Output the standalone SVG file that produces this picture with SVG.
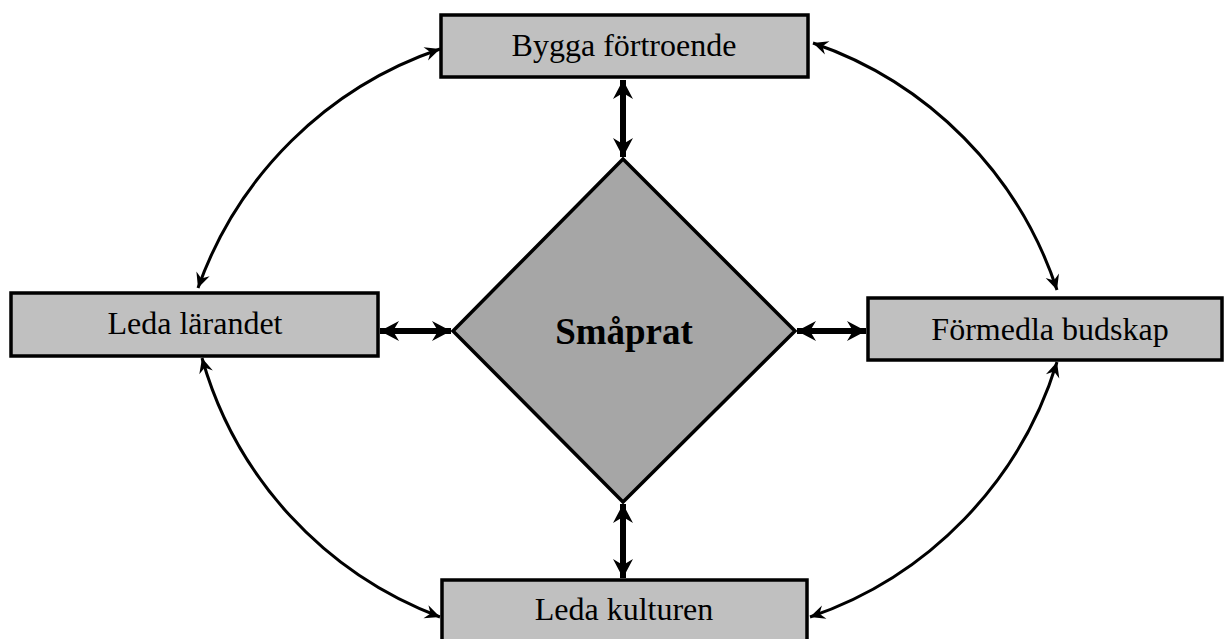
<svg xmlns="http://www.w3.org/2000/svg" width="1225" height="639" viewBox="0 0 1225 639">
<style>
.box{fill:#c0c0c0;stroke:#000;stroke-width:3.5}
.dia{fill:#a6a6a6;stroke:#000;stroke-width:3.5}
.lbl{font-family:"Liberation Serif","Times New Roman",serif;font-size:32px;fill:#000;text-anchor:middle}
.big{font-family:"Liberation Serif","Times New Roman",serif;font-size:37px;font-weight:bold;fill:#000;text-anchor:middle}
.thin{fill:none;stroke:#000;stroke-width:3;marker-start:url(#ah);marker-end:url(#ah)}
.thick{fill:none;stroke:#000;stroke-width:6;marker-start:url(#AH);marker-end:url(#AH)}
</style>
<defs>
<marker id="ah" markerUnits="userSpaceOnUse" viewBox="-16 -8 17 16" refX="0" refY="0" markerWidth="17" markerHeight="16" orient="auto-start-reverse">
<path d="M0,0 L-15,-7 L-10,0 L-15,7 Z" fill="#000"/>
</marker>
<marker id="AH" markerUnits="userSpaceOnUse" viewBox="-20 -11 21 22" refX="0" refY="0" markerWidth="21" markerHeight="22" orient="auto-start-reverse">
<path d="M0,0 L-19,-10 L-13,0 L-19,10 Z" fill="#000"/>
</marker>
</defs>
<g id="connectors">
<path class="thick" d="M623,80 L623,157"/>
<path class="thick" d="M380,331 L451,331"/>
<path class="thick" d="M797,331 L866,331"/>
<path class="thick" d="M623,504 L623,578"/>
<path class="thin" d="M440,49 A390,390 0 0 0 198,288"/>
<path class="thin" d="M813,43 A390,390 0 0 1 1057,290"/>
<path class="thin" d="M202,358 A390,390 0 0 0 440,617"/>
<path class="thin" d="M1057,362 A390,390 0 0 1 810,617"/>
</g>
<g id="center">
<polygon class="dia" points="623,159 795,331 623,502 453,331"/>
<text class="big" x="624" y="344">Småprat</text>
</g>
<g id="top">
<rect class="box" x="441" y="15" width="367" height="62"/>
<text class="lbl" x="624" y="56">Bygga förtroende</text>
</g>
<g id="left">
<rect class="box" x="11" y="293" width="367" height="63"/>
<text class="lbl" x="195" y="334">Leda lärandet</text>
</g>
<g id="right">
<rect class="box" x="868" y="298" width="354" height="62"/>
<text class="lbl" x="1050" y="340">Förmedla budskap</text>
</g>
<g id="bottom">
<rect class="box" x="442" y="580" width="365" height="70"/>
<text class="lbl" x="624" y="620">Leda kulturen</text>
</g>
</svg>
